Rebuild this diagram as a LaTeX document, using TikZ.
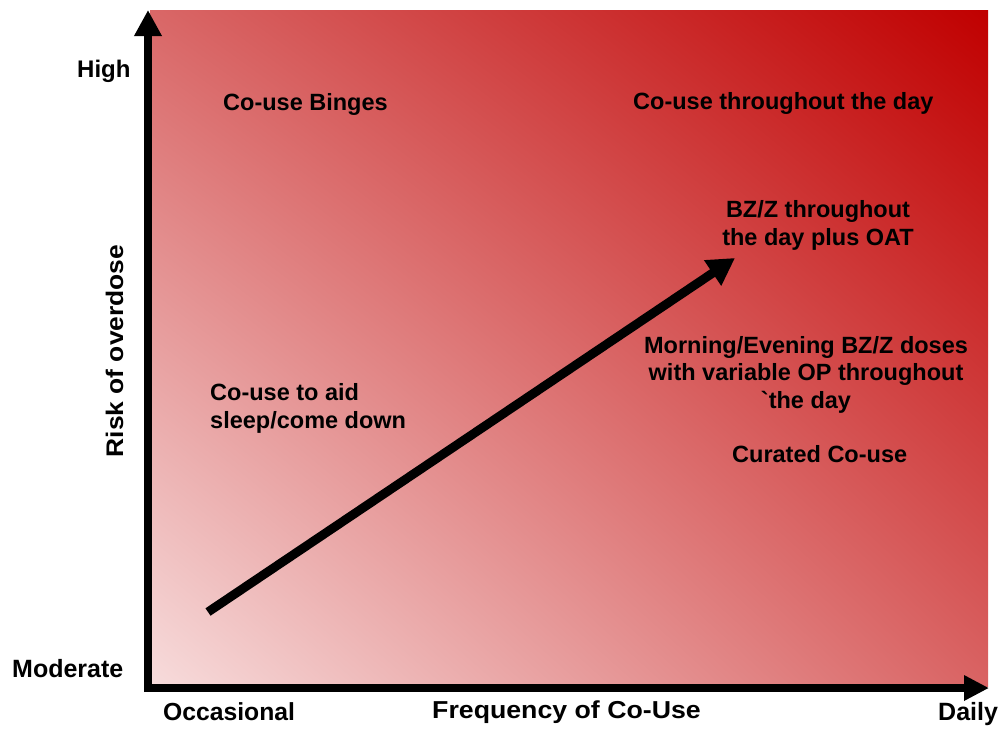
\documentclass[tikz,border=0pt]{standalone}
\usepackage{graphicx}
\usepackage{fontspec}
\setmainfont{Liberation Sans}
\newfontfamily\rawfont{Liberation Sans}[Ligatures=TeXOff]
\usetikzlibrary{arrows.meta,shadings}
\definecolor{cLL}{HTML}{F7DCDC}
\definecolor{cUL}{HTML}{D96767}
\definecolor{cLR}{HTML}{D96363}
\definecolor{cUR}{HTML}{C00000}
\begin{document}
\begin{tikzpicture}[x=1pt,y=-1pt,
  lbl/.style={font=\fontsize{23.5}{28}\selectfont\bfseries, inner sep=0pt, text=black},
  axlbl/.style={inner sep=0pt, text=black},
  axisline/.style={line width=8.5pt, black},
  trend/.style={line width=9pt, black, -{Triangle[length=27pt,width=29pt]}}]
\useasboundingbox (0,0) rectangle (1000,728);
\shade[upper left=cUL, upper right=cUR, lower left=cLL, lower right=cLR] (150,10) rectangle (988,686);
% axes
\coordinate (yo) at (148,692);
\coordinate (ytip) at (148,10);
\coordinate (xo) at (144,688);
\coordinate (xtip) at (989,688);
\draw[axisline, -{Triangle[length=26pt,width=26pt]}] (yo) -- (ytip);
\draw[axisline, -{Triangle[length=25pt,width=24pt]}] (xo) -- (xtip);
% trend arrow
\coordinate (ts) at (208,612);
\coordinate (te) at (735,258);
\draw[trend] (ts) -- (te);
% axis labels
\node[axlbl, font=\fontsize{24}{28}\selectfont\bfseries, anchor=base west] (high) at (77,77) {High};
\node[axlbl, font=\fontsize{25}{28}\selectfont\bfseries, anchor=base west] (moderate) at (12,677) {Moderate};
\node[axlbl, font=\fontsize{24.7}{28}\selectfont\bfseries, anchor=base west] (occ) at (163,720) {Occasional};
\node[axlbl, font=\fontsize{25}{28}\selectfont\bfseries, anchor=base west] (daily) at (938,720) {Daily};
\node[axlbl, font=\fontsize{24.5}{28}\selectfont\bfseries, anchor=base west] (freq) at (432,718) {\scalebox{1.09}[1]{Frequency of Co-Use}};
\node[axlbl, font=\fontsize{24}{28}\selectfont\bfseries, anchor=base, rotate=90] (risk) at (123,351) {\scalebox{1.1}[1]{Risk of overdose}};
% region labels
\node[lbl, anchor=base west] (binges) at (223,110) {Co-use Binges};
\node[lbl, anchor=base west] (throughday) at (633,109) {Co-use throughout the day};
\node[lbl, anchor=north, align=center, font=\fontsize{23.5}{28}\selectfont\bfseries] (bzz) at (818,200) {BZ/Z throughout\\the day plus OAT};
\node[lbl, anchor=north, align=center, font=\fontsize{23.5}{27.5}\selectfont\bfseries] (morning) at (806,336) {Morning/Evening BZ/Z doses\\with variable OP throughout\\{\rawfont\bfseries\symbol{96}}the day};
\node[lbl, anchor=base west] (curated) at (732,462) {Curated Co-use};
\node[lbl, anchor=north west, align=left, font=\fontsize{23.5}{28}\selectfont\bfseries] (sleep) at (210,383) {Co-use to aid\\sleep/come down};
\end{tikzpicture}
\end{document}
